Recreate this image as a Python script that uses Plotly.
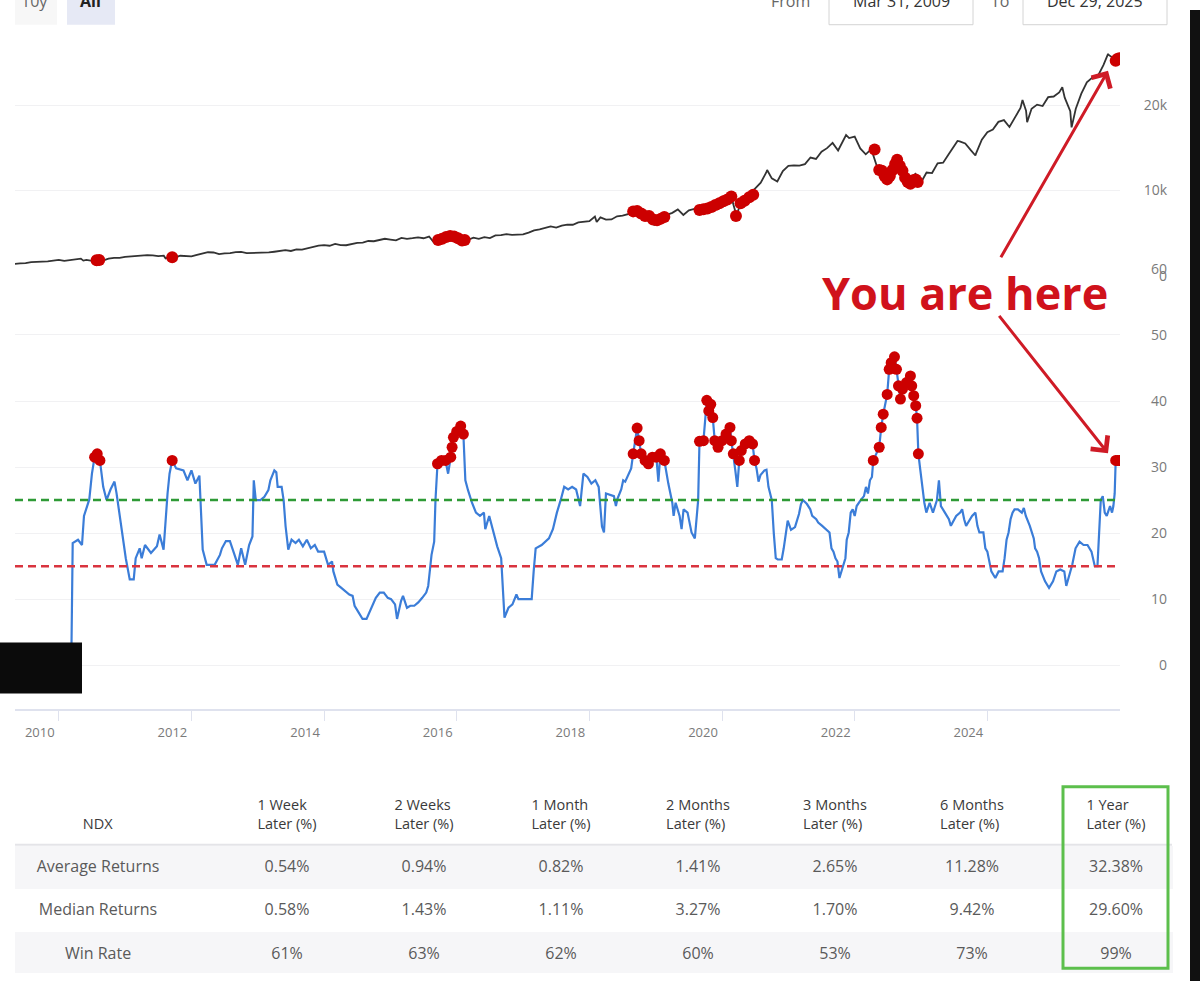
import plotly.graph_objects as go

W, H = 1200, 990

# ---- price (NDX month-end closes, from Mar 2009) ----
price_first_year, price_first_month = 2009, 3
price_close = [
    1240, 1400, 1450, 1480, 1610, 1630, 1710, 1700, 1790, 1860,
    1740, 1820, 1960, 2010, 1860, 1750, 1850, 1770, 2010, 2110, 2100, 2220,
    2280, 2340, 2340, 2420, 2400, 2300, 2360, 2210, 2150, 2350, 2300, 2280,
    2460, 2650, 2760, 2730, 2540, 2620, 2650, 2770, 2800, 2660, 2680, 2660,
    2730, 2740, 2820, 2890, 3000, 2910, 3100, 3070, 3220, 3390, 3530, 3590,
    3520, 3730, 3600, 3580, 3740, 3850, 3890, 4080, 4050, 4160, 4340, 4240,
    4150, 4450, 4330, 4410, 4510, 4400, 4600, 4270, 4180, 4650, 4680, 4590,
    4280, 4200, 4480, 4340, 4520, 4420, 4730, 4770, 4880, 4800, 4810, 4860,
    5070, 5330, 5440, 5580, 5790, 5650, 5880, 5990, 5980, 6250, 6370, 6400,
    6950, 6850, 6580, 6600, 6970, 7040, 7230, 7620, 7630, 6970, 6950, 6330,
    6910, 7100, 7380, 7780, 7130, 7670, 7850, 7700, 7750, 8080, 8410, 8730,
    9150, 8460, 7810, 8890, 9560, 10160, 10910, 12110, 11420, 11050, 12270, 12890,
    12930, 12910, 13090, 13860, 13690, 14550, 14960, 15580, 14690, 15850, 16140, 16320,
    14930, 14240, 14840, 12850, 12640, 11500, 12950, 12270, 10970, 11410, 11950, 10940,
    12100, 12040, 13180, 13250, 14250, 15180, 15760, 15500, 14720, 14410, 15950, 16830,
    17140, 18040, 18250, 17440, 18540, 19680, 19360, 19570, 20060, 19890, 20930, 21010,
    21480, 20880, 19280, 19570, 21340, 22680, 23220, 23420, 24680, 25860, 25430, 25550,
]
# intramonth swings visible on the line
price_extra_x = [2010.37, 2011.61, 2015.65, 2016.11, 2018.11, 2018.98, 2020.14, 2020.22,
                 2020.68, 2021.87, 2022.46, 2022.62, 2022.79, 2023.55, 2023.82, 2024.53,
                 2024.60, 2025.13, 2025.27, 2025.82]
price_extra_y = [1780, 2050, 3950, 3950, 6300, 5900, 9700, 7000,
                 12400, 16500, 11200, 13600, 10700, 15800, 14100, 20600,
                 18000, 22100, 17400, 26000]

# red signal dots on the price panel
signal_x = [2010.57, 2010.61, 2011.71,
            2015.72, 2015.78, 2015.84, 2015.90, 2015.96, 2016.02, 2016.08, 2016.12,
            2018.66, 2018.72, 2018.78, 2018.84, 2018.90, 2018.96, 2019.02, 2019.08, 2019.13,
            2019.66, 2019.72, 2019.78, 2019.84, 2019.90, 2019.96, 2020.02, 2020.08, 2020.14,
            2020.21, 2020.28, 2020.34, 2020.41, 2020.47,
            2022.30, 2022.37, 2022.41, 2022.45, 2022.49, 2022.53, 2022.57, 2022.61, 2022.64,
            2022.68, 2022.72, 2022.76, 2022.80, 2022.84, 2022.88, 2022.92, 2022.95,
            2025.935, 2025.96, 2025.99]
signal_price = [1830, 1850, 2170,
                4200, 4350, 4550, 4650, 4600, 4400, 4150, 4200,
                7550, 7600, 7300, 7000, 7000, 6600, 6500, 6700, 6900,
                7700, 7800, 7900, 8050, 8300, 8500, 8750, 8950, 9300,
                7000, 8500, 8800, 9200, 9500,
                14800, 12400, 12300, 11700, 11300, 11700, 12400, 13100, 13600,
                12900, 12300, 11500, 11000, 10800, 11200, 11300, 11000,
                25200, 25400, 25500]

# ---- indicator ----
ind_x = [
    2010.19, 2010.21, 2010.29, 2010.35, 2010.38, 2010.46, 2010.50, 2010.54, 2010.58, 2010.62,
    2010.67, 2010.72, 2010.78, 2010.84, 2010.87, 2010.90, 2010.96, 2011.01, 2011.07, 2011.13,
    2011.16, 2011.22, 2011.25, 2011.30, 2011.39, 2011.48, 2011.52, 2011.58, 2011.64, 2011.67,
    2011.71, 2011.77, 2011.88, 2011.94, 2012.00, 2012.06, 2012.12, 2012.14, 2012.17, 2012.23,
    2012.35, 2012.43, 2012.46, 2012.52, 2012.58, 2012.64, 2012.70, 2012.75, 2012.81, 2012.87,
    2012.92, 2012.94, 2012.97, 2013.04, 2013.10, 2013.16, 2013.19, 2013.25, 2013.28, 2013.30,
    2013.36, 2013.39, 2013.42, 2013.46, 2013.51, 2013.57, 2013.62, 2013.68, 2013.74, 2013.80,
    2013.86, 2013.91, 2014.00, 2014.06, 2014.12, 2014.14, 2014.20, 2014.26, 2014.32, 2014.38,
    2014.43, 2014.46, 2014.52, 2014.58, 2014.64, 2014.70, 2014.78, 2014.84, 2014.90, 2014.96,
    2015.01, 2015.07, 2015.10, 2015.16, 2015.19, 2015.25, 2015.30, 2015.36, 2015.42, 2015.48,
    2015.54, 2015.57, 2015.59, 2015.62, 2015.66, 2015.68, 2015.71, 2015.77, 2015.83, 2015.87,
    2015.91, 2015.93, 2015.95, 2016.00, 2016.06, 2016.10, 2016.13, 2016.17, 2016.23, 2016.29,
    2016.35, 2016.41, 2016.43, 2016.49, 2016.55, 2016.61, 2016.67, 2016.70, 2016.72, 2016.78,
    2016.84, 2016.90, 2016.93, 2017.04, 2017.13, 2017.16, 2017.19, 2017.28, 2017.39, 2017.45,
    2017.51, 2017.57, 2017.62, 2017.68, 2017.74, 2017.80, 2017.86, 2017.88, 2017.91, 2017.97,
    2018.03, 2018.09, 2018.14, 2018.19, 2018.22, 2018.25, 2018.31, 2018.37, 2018.40, 2018.42,
    2018.48, 2018.51, 2018.54, 2018.57, 2018.63, 2018.66, 2018.72, 2018.75, 2018.78, 2018.84,
    2018.89, 2018.95, 2019.01, 2019.04, 2019.07, 2019.13, 2019.16, 2019.19, 2019.25, 2019.27,
    2019.30, 2019.36, 2019.39, 2019.42, 2019.48, 2019.54, 2019.59, 2019.64, 2019.66, 2019.72,
    2019.77, 2019.80, 2019.83, 2019.86, 2019.89, 2019.94, 2020.00, 2020.06, 2020.12, 2020.14,
    2020.17, 2020.20, 2020.23, 2020.26, 2020.29, 2020.35, 2020.41, 2020.46, 2020.49, 2020.52,
    2020.55, 2020.58, 2020.64, 2020.67, 2020.70, 2020.75, 2020.78, 2020.81, 2020.84, 2020.90,
    2020.93, 2020.99, 2021.04, 2021.10, 2021.16, 2021.19, 2021.22, 2021.28, 2021.33, 2021.36,
    2021.42, 2021.45, 2021.51, 2021.57, 2021.62, 2021.65, 2021.68, 2021.71, 2021.74, 2021.77,
    2021.80, 2021.86, 2021.88, 2021.91, 2021.94, 2021.97, 2022.00, 2022.03, 2022.09, 2022.14,
    2022.17, 2022.20, 2022.23, 2022.26, 2022.28, 2022.37, 2022.40, 2022.43, 2022.49, 2022.52,
    2022.55, 2022.60, 2022.63, 2022.66, 2022.69, 2022.72, 2022.78, 2022.84, 2022.86, 2022.89,
    2022.92, 2022.94, 2022.96, 2022.99, 2023.02, 2023.05, 2023.08, 2023.13, 2023.18, 2023.24,
    2023.27, 2023.30, 2023.36, 2023.42, 2023.45, 2023.50, 2023.53, 2023.59, 2023.62, 2023.65,
    2023.68, 2023.71, 2023.77, 2023.82, 2023.85, 2023.88, 2023.94, 2023.97, 2024.00, 2024.06,
    2024.12, 2024.17, 2024.23, 2024.26, 2024.29, 2024.32, 2024.35, 2024.38, 2024.41, 2024.46,
    2024.52, 2024.55, 2024.58, 2024.64, 2024.67, 2024.70, 2024.72, 2024.75, 2024.78, 2024.81,
    2024.87, 2024.93, 2024.99, 2025.04, 2025.10, 2025.16, 2025.19, 2025.22, 2025.28, 2025.33,
    2025.39, 2025.45, 2025.51, 2025.57, 2025.62, 2025.66, 2025.69, 2025.71, 2025.74, 2025.77,
    2025.80, 2025.85, 2025.88, 2025.90, 2025.92, 2025.935, 2025.96, 2025.99,
]
ind_y = [
    1.5, 18.5, 19.0, 18.2, 22.6, 25.1, 29.0, 31.5, 32.0, 31.0,
    27.0, 25.0, 26.6, 27.8, 26.1, 24.1, 20.1, 16.2, 13.0, 13.0,
    16.2, 17.7, 16.2, 18.2, 17.0, 18.0, 19.8, 17.5, 26.0, 29.0,
    31.0, 29.8, 29.5, 28.0, 29.5, 27.5, 28.7, 25.0, 17.5, 15.2,
    15.2, 16.7, 17.7, 18.8, 18.8, 17.0, 15.2, 17.7, 15.2, 18.2,
    19.5, 28.0, 25.0, 25.0, 25.5, 26.5, 28.0, 29.5, 29.2, 27.0,
    27.0, 25.0, 21.0, 17.5, 19.0, 18.5, 19.0, 18.0, 19.0, 17.7,
    18.2, 17.2, 17.2, 15.2, 15.7, 14.2, 12.2, 11.7, 11.2, 10.7,
    10.5, 9.0, 8.0, 7.0, 7.0, 8.5, 10.2, 11.0, 11.0, 10.2,
    10.0, 9.2, 7.0, 9.7, 10.5, 8.7, 9.0, 9.0, 9.5, 10.2,
    11.0, 12.0, 14.2, 16.7, 18.7, 25.1, 30.5, 31.0, 31.0, 29.0,
    31.5, 33.0, 34.5, 35.4, 36.2, 35.0, 28.0, 26.5, 24.6, 23.1,
    22.6, 23.1, 20.6, 22.6, 20.1, 18.0, 16.2, 11.7, 7.2, 8.7,
    9.2, 10.7, 10.0, 10.0, 10.0, 14.2, 17.7, 18.2, 19.2, 20.6,
    23.1, 25.1, 27.0, 26.6, 27.0, 26.6, 24.1, 26.1, 29.0, 28.5,
    27.5, 28.0, 27.0, 21.0, 20.1, 26.0, 25.8, 25.6, 24.1, 25.1,
    26.6, 28.0, 27.8, 28.5, 29.8, 32.0, 35.9, 34.0, 32.0, 31.0,
    30.5, 31.5, 31.5, 27.8, 32.0, 31.0, 29.0, 27.5, 24.6, 22.6,
    24.6, 22.6, 20.6, 23.6, 23.1, 20.1, 19.2, 25.0, 33.9, 34.0,
    40.1, 38.5, 39.5, 37.5, 34.0, 33.0, 34.0, 35.0, 36.0, 34.0,
    32.0, 29.5, 27.0, 31.0, 32.5, 33.5, 34.0, 33.5, 31.0, 29.8,
    27.8, 28.8, 29.5, 29.6, 27.0, 25.0, 20.0, 16.2, 16.0, 16.0,
    17.7, 21.9, 20.5, 20.9, 22.9, 24.4, 25.0, 24.4, 23.6, 22.6,
    22.1, 21.6, 21.1, 20.6, 20.1, 17.7, 17.2, 16.2, 15.7, 13.2,
    14.2, 16.2, 19.0, 20.1, 23.1, 23.6, 22.6, 24.1, 25.0, 25.6,
    27.0, 26.0, 28.0, 28.5, 31.0, 33.0, 36.0, 38.0, 41.0, 44.8,
    45.8, 46.7, 44.8, 42.3, 40.3, 41.8, 42.8, 43.8, 42.3, 40.8,
    39.3, 37.4, 32.0, 29.5, 27.0, 24.6, 23.1, 24.6, 23.1, 25.0,
    28.0, 24.1, 23.1, 22.1, 21.1, 22.1, 22.6, 23.1, 23.6, 22.1,
    21.1, 21.6, 22.6, 23.1, 21.1, 20.1, 20.1, 17.7, 17.2, 14.2,
    13.2, 14.2, 14.2, 16.2, 19.0, 20.1, 22.1, 23.1, 23.6, 23.6,
    23.1, 23.8, 22.6, 21.1, 20.1, 19.2, 17.7, 17.2, 16.2, 14.2,
    12.7, 11.7, 12.7, 14.2, 14.5, 14.2, 12.0, 13.2, 15.2, 17.7,
    18.7, 18.2, 18.2, 17.2, 15.0, 15.0, 20.1, 25.0, 25.6, 23.1,
    22.6, 24.1, 23.1, 24.1, 26.0, 31.0, 31.0, 31.0,
]
upper_level = 25
lower_level = 15
signal_level = 30

tick_years = [2010, 2012, 2014, 2016, 2018, 2020, 2022, 2024]
ind_ticks = [0, 10, 20, 30, 40, 50, 60]
price_ticks = [0, 10000, 20000]
price_tick_text = ["0", "10k", "20k"]

# ---- stats table ----
table_header = ["NDX", "1 Week<br>Later (%)", "2 Weeks<br>Later (%)", "1 Month<br>Later (%)",
                "2 Months<br>Later (%)", "3 Months<br>Later (%)", "6 Months<br>Later (%)",
                "1 Year<br>Later (%)"]
row_labels = ["Average Returns", "Median Returns", "Win Rate"]
avg_returns = ["0.54%", "0.94%", "0.82%", "1.41%", "2.65%", "11.28%", "32.38%"]
median_returns = ["0.58%", "1.43%", "1.11%", "3.27%", "1.70%", "9.42%", "29.60%"]
win_rate = ["61%", "63%", "62%", "60%", "53%", "73%", "99%"]


def fx(p):
    return p / W


def fy(p):
    return min(1.0, max(0.0, 1 - p / H))


FONT = "Open Sans, Arial, sans-serif"
RED = "#cc0000"

# merge month-end closes with the intramonth swings
price_x = [price_first_year + (price_first_month + i) / 12 for i in range(len(price_close))]
price_pts = sorted(list(zip(price_x, price_close)) + list(zip(price_extra_x, price_extra_y)))

hot = [(x, y) for x, y in zip(ind_x, ind_y) if y >= signal_level]

fig = go.Figure()
fig.add_trace(go.Scatter(
    x=[p[0] for p in price_pts], y=[p[1] for p in price_pts], yaxis="y2",
    mode="lines", line=dict(color="#333333", width=1.8), hoverinfo="skip",
))
fig.add_trace(go.Scatter(
    x=signal_x, y=signal_price, yaxis="y2", mode="markers",
    marker=dict(color=RED, size=12, line=dict(width=0)),
))
fig.add_trace(go.Scatter(
    x=ind_x, y=ind_y, yaxis="y", mode="lines",
    line=dict(color="#3b7dd8", width=2.2), hoverinfo="skip",
))
fig.add_trace(go.Scatter(
    x=[h[0] for h in hot], y=[h[1] for h in hot], yaxis="y", mode="markers",
    marker=dict(color=RED, size=11, line=dict(width=0)),
))

# table: one layer for the row bands, one transparent layer for the text
# (plotly top-aligns cell text, the page centred it); blank spacer columns
# keep every column's text where the page had it
blank = ["", "", ""]
cols = [row_labels, blank]
for k in range(6):
    cols.append([avg_returns[k], median_returns[k], win_rate[k]])
cols += [blank, [avg_returns[6], median_returns[6], win_rate[6]]]
heads = ["\u00a0<br>" + table_header[0], ""] + table_header[1:7] + ["", table_header[7]]
col_w = [166, 37.5, 137, 137, 137, 137, 137, 137, 19.5, 112]
row_fill = ["#f6f6f8", "#ffffff", "#f6f6f8"]
clear = "rgba(0,0,0,0)"
head_top, head_h, row_h, text_drop = 786, 65, 43.5, 6
table_bottom = head_top + head_h + 3 * row_h

fig.add_trace(go.Table(
    domain=dict(x=[fx(15), fx(1172)], y=[fy(table_bottom + 1), fy(head_top)]),
    columnwidth=col_w,
    header=dict(values=[""] * len(heads), height=head_h, fill_color="white",
                line=dict(color="white", width=1)),
    cells=dict(values=[blank] * len(cols), height=row_h,
               fill_color=[row_fill] * len(cols),
               line=dict(color=[row_fill] * len(cols), width=1)),
))
fig.add_trace(go.Table(
    domain=dict(x=[fx(15), fx(1172)],
                y=[fy(table_bottom + 1 + text_drop), fy(head_top + text_drop)]),
    columnwidth=col_w,
    header=dict(values=heads, height=head_h, align="center",
                fill_color=clear, line=dict(color=clear, width=0),
                font=dict(family=FONT, size=14.5, color="#3a3a3a")),
    cells=dict(values=cols, height=row_h, align="center",
               fill_color=clear, line=dict(color=clear, width=0),
               font=dict(family=FONT, size=16, color="#5a5a5a")),
))

axis_font = dict(family=FONT, size=14, color="#7a7a7a")
fig.update_layout(
    width=W, height=H, autosize=False,
    margin=dict(l=0, r=0, t=0, b=0),
    paper_bgcolor="white", plot_bgcolor="white",
    showlegend=False,
    font=dict(family=FONT),
    xaxis=dict(
        domain=[fx(15), fx(1120)], range=[2009.34, 2026.0], anchor="y",
        tickvals=tick_years, ticktext=[str(y) for y in tick_years],
        ticks="outside", ticklen=10, tickcolor="#dfe2ee", tickwidth=1,
        showline=True, linecolor="#dfe2ee", linewidth=2,
        showgrid=False, zeroline=False, ticklabelshift=-19,
        tickfont=dict(family=FONT, size=13, color="#7a7a7a"),
    ),
    yaxis=dict(
        domain=[fy(713), fy(264)], range=[-6.68, 60],
        tickvals=ind_ticks, anchor="free", position=fx(1167), side="left",
        showgrid=True, gridcolor="#f1f1f3", zeroline=False, showline=False,
        ticks="", tickfont=axis_font,
    ),
    yaxis2=dict(
        domain=[fy(271), fy(20)], range=[0, 28850],
        tickvals=price_ticks, ticktext=price_tick_text,
        anchor="free", position=fx(1167), side="left",
        showgrid=True, gridcolor="#f1f1f3", zeroline=False, showline=False,
        ticks="", tickfont=axis_font,
    ),
)

# threshold lines
for lvl, col in [(upper_level, "#2e9a36"), (lower_level, "#d9343f")]:
    fig.add_shape(type="line", xref="x domain", x0=0, x1=1, yref="y", y0=lvl, y1=lvl,
                  line=dict(color=col, width=2.5, dash="8px,5px"))


def rect(x0, y0, x1, y1, **kw):
    fig.add_shape(type="rect", xref="paper", yref="paper",
                  x0=fx(x0), x1=fx(x1), y0=1 - y1 / H, y1=1 - y0 / H, **kw)


def label(txt, xp, yp, size, color):
    fig.add_annotation(x=fx(xp), y=1 - yp / H, xref="paper", yref="paper", showarrow=False,
                       xanchor="center", yanchor="middle", text=txt,
                       font=dict(family=FONT, size=size, color=color))


# cut-off range selector at the top
rect(15, -20, 57, 15, fillcolor="#f7f7f7", line=dict(width=0), layer="below")
rect(67, -20, 115, 15, fillcolor="#e6e9f5", line=dict(width=0), layer="below")
rect(829, -20, 973, 15, fillcolor="white", line=dict(color="#d4d4d4", width=1))
rect(1023, -20, 1167, 15, fillcolor="white", line=dict(color="#d4d4d4", width=1))
for txt, xp, col in [("10y", 34, "#666666"), ("<b>All</b>", 90, "#222222"),
                     ("From", 790, "#666666"), ("Mar 31, 2009", 901, "#333333"),
                     ("To", 1000, "#666666"), ("Dec 29, 2025", 1095, "#333333")]:
    label(txt, xp, -9, 16, col)

# redaction box and dark right edge from the screen capture
rect(0, 645, 82, 697, fillcolor="#0b0b0b", line=dict(width=0))
rect(1190, 0, 1200, 990, fillcolor="#111111", line=dict(width=0))

# table decorations
fig.add_shape(type="line", xref="paper", yref="paper", x0=fx(15), x1=fx(1172),
              y0=fy(head_top + head_h), y1=fy(head_top + head_h),
              line=dict(color="#e4e4e8", width=2))
rect(1063, 792, 1168, 977, line=dict(color="#5cbf4c", width=3))

# callout
label("<b>You are here</b>", 965, 288, 45, "#d0121b")
for (hx, hy), (tx, ty) in [((1108, 62), (1000, 250)), ((1108, 452), (998, 313))]:
    fig.add_annotation(x=fx(hx), y=fy(hy), xref="paper", yref="paper", text="",
                       showarrow=True, ax=tx - hx, ay=ty - hy,
                       arrowhead=4, arrowsize=1.4, arrowwidth=3, arrowcolor="#cf1b26",
                       standoff=0, startstandoff=0)

# the page is photographed at 1200x990, so drop the body margin and the modebar
fig.write_html("out.html", config={"displayModeBar": False},
               post_script="document.body.style.margin='0';")
